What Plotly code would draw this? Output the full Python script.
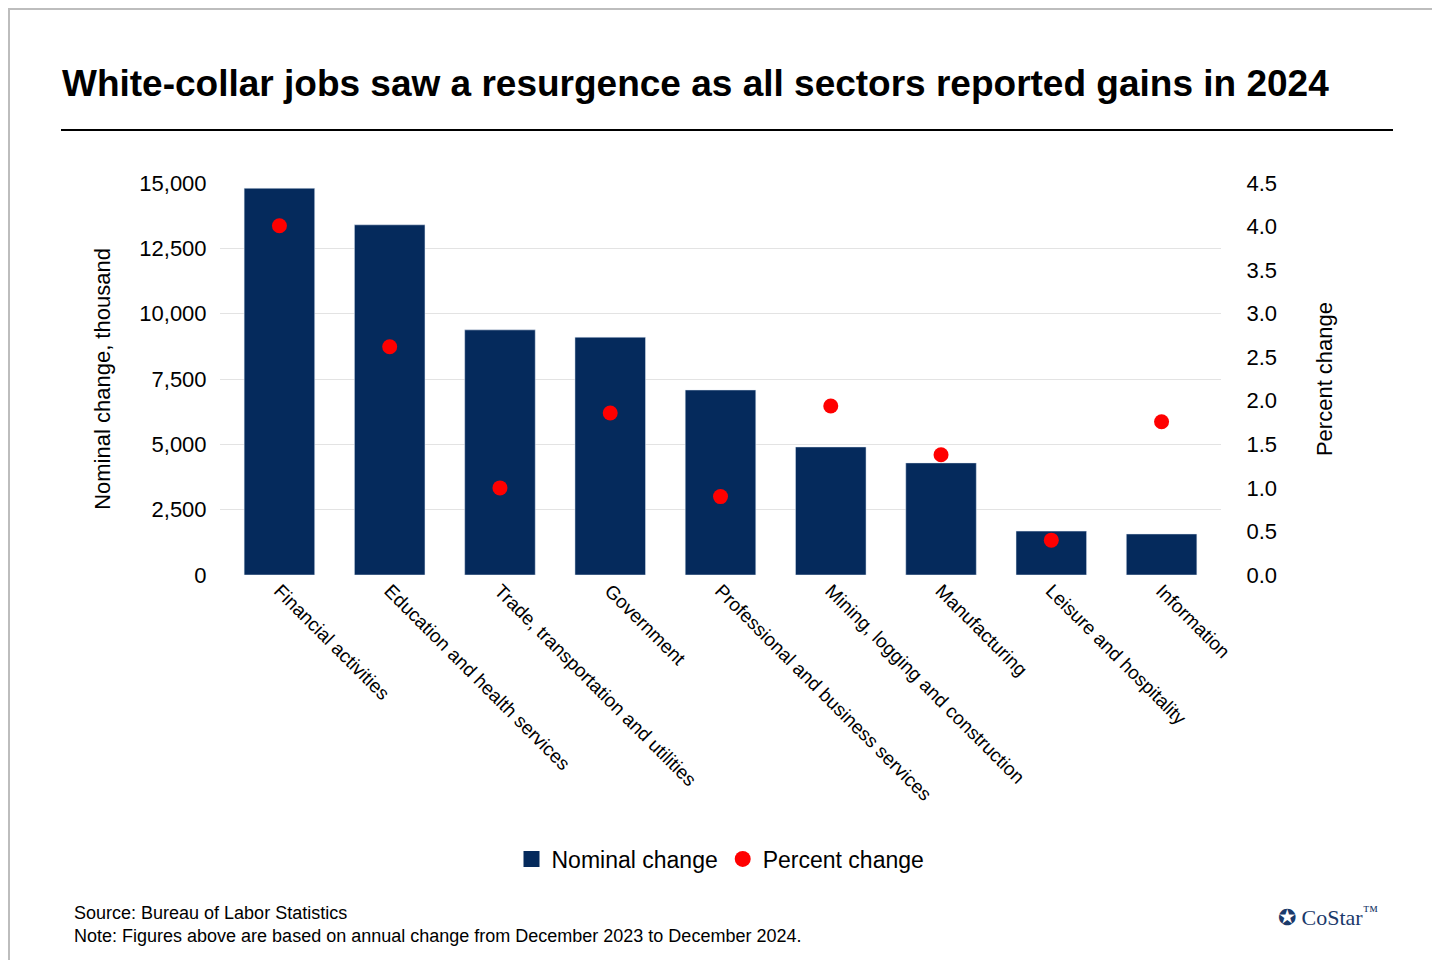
import plotly.graph_objects as go

sectors = ["Financial activities", "Education and health services",
           "Trade, transportation and utilities", "Government",
           "Professional and business services", "Mining, logging and construction",
           "Manufacturing", "Leisure and hospitality", "Information"]
nominal = [14800, 13400, 9380, 9100, 7080, 4900, 4290, 1680, 1570]
percent = [4.01, 2.62, 1.00, 1.86, 0.90, 1.94, 1.38, 0.40, 1.76]

W, H = 1440, 960
L, R, T, B = 212, 227, 175, 393
pw, ph = W - L - R, H - T - B


def px(x):
    return (x - L) / pw


def py(y):
    return (H - B - y) / ph


fig = go.Figure()
fig.add_trace(go.Bar(x=sectors, y=nominal, name="Nominal change",
                     marker_color="#052a5c", width=0.64, showlegend=False))
fig.add_trace(go.Scatter(x=sectors, y=percent, name="Percent change", yaxis="y2",
                         mode="markers", marker=dict(color="#ff0000", size=15),
                         showlegend=False))
# legend entries with larger symbols
fig.add_trace(go.Scatter(x=[None], y=[None], mode="markers", name="Nominal change",
                         marker=dict(symbol="square", size=26, color="#052a5c")))
fig.add_trace(go.Scatter(x=[None], y=[None], mode="markers", name="Percent change",
                         marker=dict(symbol="circle", size=26, color="#ff0000")))

font = "Liberation Sans, Arial, sans-serif"
fig.update_layout(
    width=W, height=H, paper_bgcolor="white", plot_bgcolor="white",
    margin=dict(l=L, r=R, t=T, b=B, autoexpand=False),
    font=dict(family=font, size=22, color="black"),
    bargap=0.36,
    xaxis=dict(tickangle=45, tickfont=dict(size=19), showline=False, ticks=""),
    yaxis=dict(range=[0, 15000], dtick=2500, tickformat=",", gridcolor="#e3e3e3",
               tickfont=dict(size=22),
               title=dict(text="Nominal change, thousand", standoff=22, font=dict(size=22)),
               ticks="outside", ticklen=8, tickcolor="white", zeroline=False),
    yaxis2=dict(range=[0, 4.5], dtick=0.5, tickformat=".1f", overlaying="y", side="right",
                showgrid=False, tickfont=dict(size=22),
                title=dict(text="Percent change", standoff=40, font=dict(size=22)),
                ticks="outside", ticklen=20, tickcolor="white", zeroline=False),
    legend=dict(orientation="h", x=0.5, xanchor="center", y=py(851), yanchor="middle",
                font=dict(size=23), itemsizing="trace", itemwidth=30),
    showlegend=True,
)
fig.add_annotation(text="<b>White-collar jobs saw a resurgence as all sectors reported gains in 2024</b>",
                   xref="paper", yref="paper", x=px(52), y=py(76), xanchor="left",
                   yanchor="middle", showarrow=False, font=dict(size=37))
fig.add_annotation(text="Source: Bureau of Labor Statistics<br>Note: Figures above are based on annual change from December 2023 to December 2024.",
                   xref="paper", yref="paper", x=px(64), y=py(916), xanchor="left",
                   yanchor="middle", showarrow=False, align="left", font=dict(size=18))
fig.add_annotation(text="✪ CoStar<sup>™</sup>", xref="paper", yref="paper", x=px(1372), y=py(908),
                   xanchor="right", yanchor="middle", showarrow=False,
                   font=dict(size=22, color="#1b3a6b", family="Liberation Serif, serif"))
fig.add_shape(type="line", xref="paper", yref="paper", x0=px(53), x1=px(1385),
              y0=py(122), y1=py(122), line=dict(color="black", width=2))
fig.add_shape(type="rect", xref="paper", yref="paper", x0=px(1), x1=px(1439),
              y0=py(1), y1=py(959), line=dict(color="#bdbdbd", width=2))

fig.write_html("out.html")
